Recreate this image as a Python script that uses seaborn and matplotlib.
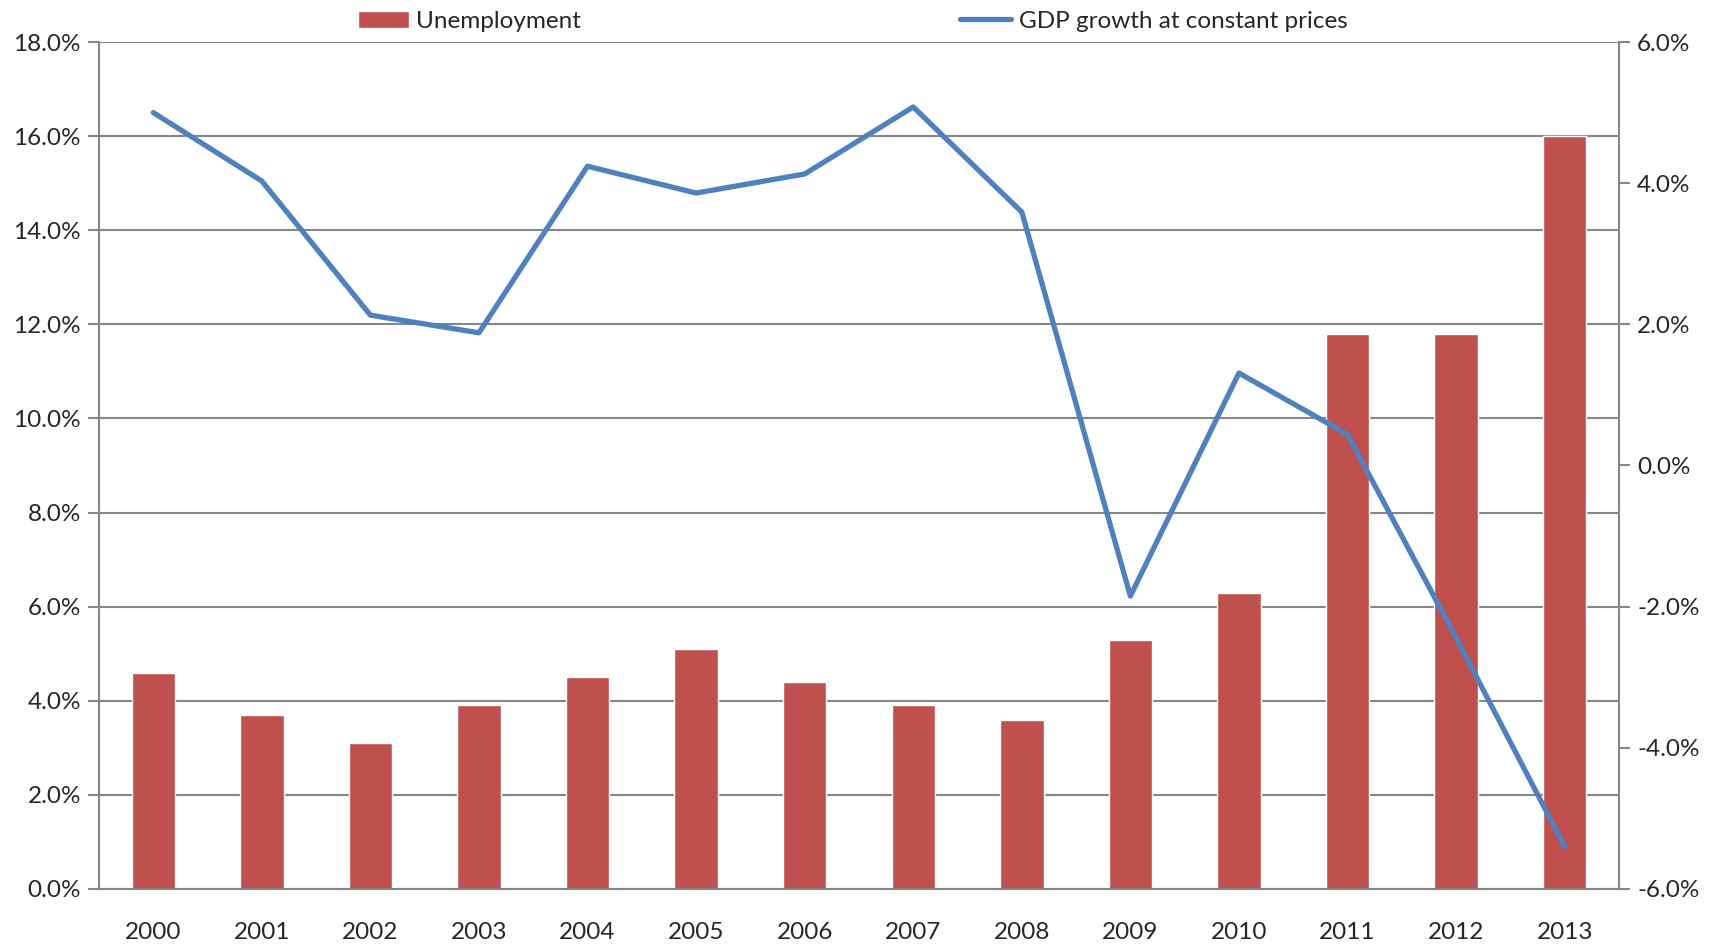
import matplotlib
matplotlib.use("Agg")
import matplotlib.pyplot as plt
import matplotlib.ticker as mticker
import numpy as np
import pandas as pd
import seaborn as sns

years = ["2000", "2001", "2002", "2003", "2004", "2005", "2006",
         "2007", "2008", "2009", "2010", "2011", "2012", "2013"]
unemployment = [4.6, 3.7, 3.1, 3.9, 4.5, 5.1, 4.4, 3.9, 3.6, 5.3, 6.3, 11.8, 11.8, 16.0]
gdp_growth = [5.0, 4.03, 2.13, 1.88, 4.24, 3.86, 4.13, 5.08, 3.59, -1.85, 1.31, 0.44, -2.44, -5.40]

BAR_RED = "#C0504D"
LINE_BLUE = "#4F81BD"
GRID = "#868686"
FS = 17.5

df = pd.DataFrame({"year": years, "unemp": unemployment, "gdp": gdp_growth})

sns.set_theme(style="white")
plt.rcParams["font.family"] = ["Lato", "DejaVu Sans"]

fig, ax = plt.subplots(figsize=(17.21, 9.44), dpi=100)
fig.subplots_adjust(left=0.0575, right=0.9407, top=0.9555, bottom=0.0583)

sns.barplot(data=df, x="year", y="unemp", color=BAR_RED, saturation=1,
            width=0.4, ax=ax, label="Unemployment")
ax.set_ylim(0, 18)
ax.set_xlim(-0.5, len(years) - 0.5)
ax.yaxis.set_major_locator(mticker.MultipleLocator(2))
ax.yaxis.set_major_formatter(mticker.FuncFormatter(lambda v, p: f"{v:.1f}%"))
ax.grid(axis="y", color=GRID, linewidth=1.5)
ax.set_axisbelow(True)
ax.set_xlabel("")
ax.set_ylabel("")

ax2 = ax.twinx()
x = np.arange(len(years))
sns.lineplot(x=x, y=gdp_growth, color=LINE_BLUE, linewidth=3.8, ax=ax2,
             label="GDP growth at constant prices", legend=False)
ax2.set_ylim(-6, 6)
ax2.yaxis.set_major_locator(mticker.MultipleLocator(2))
ax2.yaxis.set_major_formatter(mticker.FuncFormatter(lambda v, p: f"{v:.1f}%"))
ax2.set_ylabel("")

for a in (ax, ax2):
    for s in a.spines.values():
        s.set_visible(False)
ax.spines["left"].set_visible(True)
ax.spines["bottom"].set_visible(True)
ax2.spines["right"].set_visible(True)
for s in (ax.spines["left"], ax.spines["bottom"], ax2.spines["right"]):
    s.set_color(GRID)
    s.set_linewidth(1.5)

# category ticks between bars
ax.set_xticks(x)
ax.set_xticklabels(years)
ax.set_xticks(np.arange(len(years) + 1) - 0.5, minor=True)
ax.tick_params(axis="x", which="major", length=0, pad=24, labelsize=FS)
ax.tick_params(axis="x", which="minor", length=8, width=1.5, color=GRID, direction="out")
ax.tick_params(axis="y", length=8, width=1.5, color=GRID, direction="out", left=True,
               labelsize=FS, pad=5)
ax2.tick_params(axis="y", length=8, width=1.5, color=GRID, direction="out", right=True,
                labelsize=FS, pad=5)

h1, l1 = ax.get_legend_handles_labels()
h2, l2 = ax2.get_legend_handles_labels()
if ax.get_legend():
    ax.get_legend().remove()
fig.legend(h1 + h2, l1 + l2, loc="upper center", bbox_to_anchor=(0.4954, 1.012),
           ncol=2, frameon=False, fontsize=FS, columnspacing=15.6,
           handlelength=2.1, handletextpad=0.3)

fig.savefig("out.png", dpi=100)
